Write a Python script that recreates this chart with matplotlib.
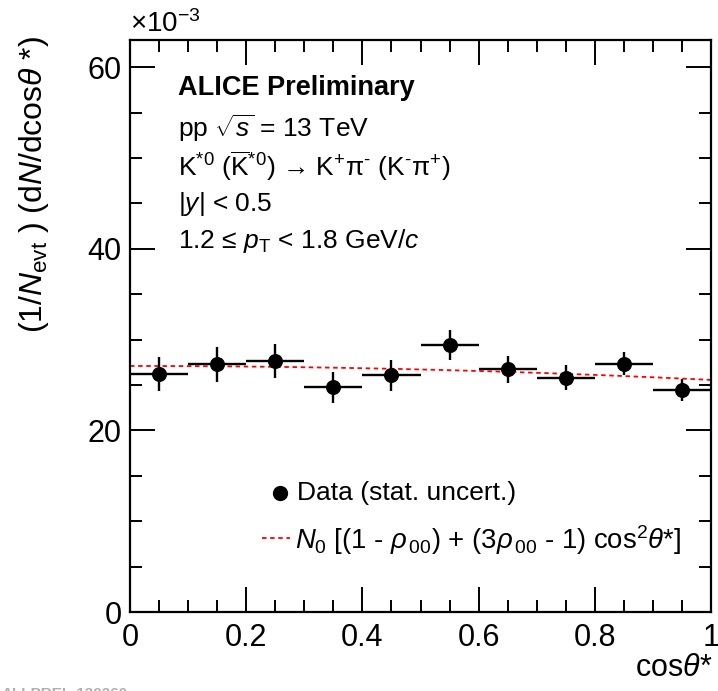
import matplotlib
matplotlib.use("Agg")
import matplotlib.pyplot as plt
import numpy as np
from matplotlib.ticker import MultipleLocator, FuncFormatter
from matplotlib.lines import Line2D

plt.rcParams['font.family'] = ['Liberation Sans', 'DejaVu Sans']
plt.rcParams['mathtext.fontset'] = 'custom'
plt.rcParams['mathtext.rm'] = 'Liberation Sans'
plt.rcParams['mathtext.it'] = 'Liberation Sans:italic'
plt.rcParams['mathtext.bf'] = 'Liberation Sans:bold'

# data (values in units of 1e-3)
cos_centers = [0.05, 0.15, 0.25, 0.35, 0.45, 0.55, 0.65, 0.75, 0.85, 0.95]
bin_half_width = [0.05] * 10
yield_vals = [26.2, 27.3, 27.65, 24.75, 26.05, 29.4, 26.75, 25.8, 27.35, 24.45]
stat_err = [1.85, 1.93, 1.84, 1.71, 1.71, 1.62, 1.5, 1.4, 1.3, 1.25]
fit_N0 = 39.88
fit_rho00 = 0.3205

W, H = 718, 691
fig = plt.figure(figsize=(W / 100, H / 100), dpi=100)
ax = fig.add_axes([130 / W, 1 - 612 / H, (711 - 130) / W, (612 - 40) / H])

ax.errorbar(cos_centers, yield_vals, yerr=stat_err, xerr=bin_half_width,
            fmt='o', color='black', markersize=9.8, elinewidth=1.7, capsize=0, zorder=3)

xf = np.linspace(0, 1, 200)
yf = fit_N0 * ((1 - fit_rho00) + (3 * fit_rho00 - 1) * xf ** 2)
ax.plot(xf, yf, color='red', linestyle=(0, (2.5, 2)), linewidth=1.3, zorder=2)

ax.set_xlim(0, 1)
ax.set_ylim(0, 63)
ax.xaxis.set_major_locator(MultipleLocator(0.2))
ax.xaxis.set_minor_locator(MultipleLocator(0.05))
ax.yaxis.set_major_locator(MultipleLocator(20))
ax.yaxis.set_minor_locator(MultipleLocator(5))
ax.xaxis.set_major_formatter(FuncFormatter(lambda v, p: '0' if abs(v) < 1e-9 else ('1' if abs(v - 1) < 1e-9 else f'{v:.1f}')))
ax.tick_params(which='both', direction='in', top=True, right=True, labelsize=22, width=1.4)
ax.tick_params(which='major', length=18)
ax.tick_params(which='minor', length=8.5)
ax.tick_params(axis='x', pad=8)
ax.tick_params(axis='y', pad=6)
for s in ax.spines.values():
    s.set_linewidth(1.6)

fig.text(130 / W, 1 - 24 / H, r'$\times10^{-3}$', fontsize=20, ha='left', va='center')
fig.text(34 / W, 1 - 36 / H, r'(1/$N_{\mathrm{evt}}$ ) (d$N$/dcos$\theta$ *)', rotation=90,
         fontsize=23, ha='center', va='top')
fig.text(712 / W, 1 - 668 / H, r'cos$\theta$*', fontsize=22, ha='right', va='center')

tx = 178 / W
fs = 19
fig.text(tx, 1 - 88 / H, 'ALICE Preliminary', fontsize=19.5, fontweight='bold', ha='left', va='center')
fig.text(tx, 1 - 128 / H, r'pp $\sqrt{s}$ = 13 TeV', fontsize=fs, ha='left', va='center')
fig.text(tx, 1 - 166 / H, r'K$^{*0}$ ($\overline{\mathrm{K}}^{*0}$) → K$^{+}$π$^{\text{-}}$ (K$^{\text{-}}$π$^{+}$)',
         fontsize=fs, ha='left', va='center')
fig.text(tx, 1 - 204 / H, r'|$y$| < 0.5', fontsize=fs, ha='left', va='center')
fig.text(tx, 1 - 241 / H, r'1.2 ≤ $p_{\mathrm{T}}$ < 1.8 GeV/$c$', fontsize=fs, ha='left', va='center')

# legend drawn manually
fig.add_artist(Line2D([280 / W], [1 - 493 / H], marker='o', color='black', markersize=10,
                      linestyle='none', transform=fig.transFigure))
fig.text(297 / W, 1 - 493 / H, 'Data (stat. uncert.)', fontsize=fs, ha='left', va='center')
fig.add_artist(Line2D([262 / W, 290 / W], [1 - 538 / H, 1 - 538 / H], color='red',
                      linestyle=(0, (2.5, 2)), linewidth=1.3, transform=fig.transFigure))
fig.text(295 / W, 1 - 540 / H,
         r'$N_{0}$ [(1 - $\rho_{\,00}$) + (3$\rho_{\,00}$ - 1) cos$^{2}\theta$*]',
         fontsize=19.8, ha='left', va='center')

fig.text(2 / W, 1 - 687 / H, 'ALI-PREL-120260', fontsize=11, color='#b0b0b0', ha='left', va='top',
         fontweight='bold')

fig.savefig('out.png', dpi=100)
